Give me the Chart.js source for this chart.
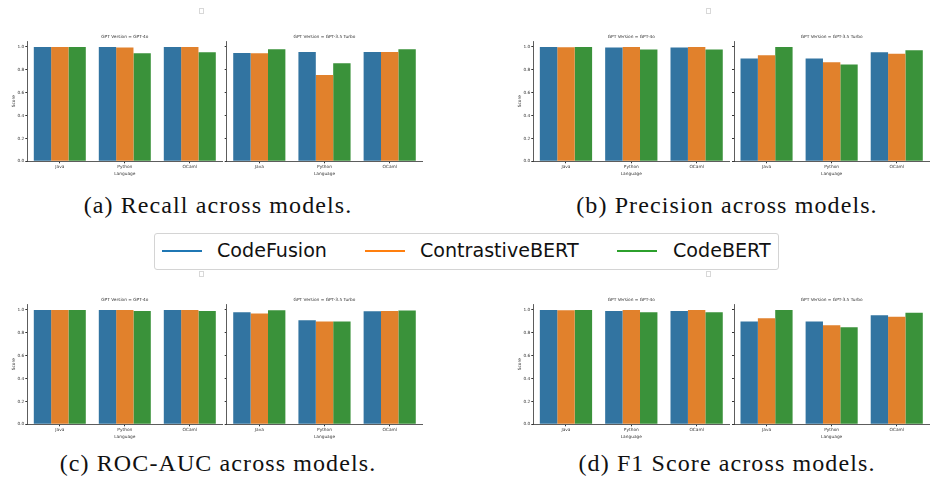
<!DOCTYPE html>
<html>
<head>
<meta charset="utf-8">
<script src="https://cdn.jsdelivr.net/npm/chart.js@4.4.1/dist/chart.umd.min.js"></script>
<style>
  body { margin: 0; background: #fff; width: 935px; height: 487px; position: relative; overflow: hidden; }
  canvas { position: absolute; }
  .legend-box { position: absolute; left: 154px; top: 233px; width: 623px; height: 35px; border: 1px solid #d4d4d4; border-radius: 3px; }
  .legend-line { position: absolute; height: 2px; top: 250px; }
  .legend-text { position: absolute; top: 240px; line-height: 22px; font-family: "DejaVu Sans", sans-serif; font-size: 19.1px; color: #111; white-space: nowrap; }
  .caption { position: absolute; width: 420px; text-align: center; font-family: "Liberation Serif", serif; font-size: 24px; letter-spacing: 1.1px; line-height: 28px; color: #111; white-space: nowrap; }
  .dot { position: absolute; width: 3px; height: 4px; border: 1px solid #d8d8d8; }
</style>
</head>
<body>

<canvas id="recall-4o" width="223" height="142" style="left:0px;top:34px"></canvas>
<canvas id="recall-35" width="199" height="142" style="left:224px;top:34px"></canvas>
<canvas id="precision-4o" width="224" height="142" style="left:506px;top:34px"></canvas>
<canvas id="precision-35" width="199" height="142" style="left:731px;top:34px"></canvas>
<canvas id="roc-4o" width="223" height="142" style="left:0px;top:297px"></canvas>
<canvas id="roc-35" width="199" height="142" style="left:224px;top:297px"></canvas>
<canvas id="f1-4o" width="224" height="142" style="left:506px;top:297px"></canvas>
<canvas id="f1-35" width="199" height="142" style="left:731px;top:297px"></canvas>

<div class="dot" style="left:199px;top:8px"></div>
<div class="dot" style="left:706px;top:8px"></div>
<div class="dot" style="left:199px;top:271px"></div>
<div class="dot" style="left:706px;top:271px"></div>

<div class="caption" style="left:8px;top:191px">(a) Recall across models.</div>
<div class="caption" style="left:517px;top:191px">(b) Precision across models.</div>

<div class="legend-box"></div>
<div class="legend-line" style="left:162px;width:40px;background:#1f77b4"></div>
<div class="legend-text" style="left:217px">CodeFusion</div>
<div class="legend-line" style="left:365px;width:40px;background:#ff7f0e"></div>
<div class="legend-text" style="left:420px">ContrastiveBERT</div>
<div class="legend-line" style="left:617px;width:40px;background:#2ca02c"></div>
<div class="legend-text" style="left:673px">CodeBERT</div>

<div class="caption" style="left:8px;top:449px">(c) ROC-AUC across models.</div>
<div class="caption" style="left:517px;top:449px">(d) F1 Score across models.</div>

<script>
const languages = ['Java', 'Python', 'OCaml'];
const models = ['CodeFusion', 'ContrastiveBERT', 'CodeBERT'];
const modelColors = ['#3274a1', '#e1812c', '#3a923a'];
const yTicks = [0, 0.2, 0.4, 0.6, 0.8, 1.0];

// rows follow models order, columns follow languages order
const recallGpt4o = [[1.0, 1.0, 1.0], [1.0, 0.995, 1.0], [1.0, 0.945, 0.953]];
const recallGpt35 = [[0.947, 0.956, 0.956], [0.945, 0.755, 0.956], [0.98, 0.857, 0.98]];
const precisionGpt4o = [[1.0, 0.994, 0.994], [0.997, 1.0, 1.0], [1.0, 0.977, 0.977]];
const precisionGpt35 = [[0.898, 0.898, 0.953], [0.927, 0.866, 0.939], [1.0, 0.845, 0.971]];
const rocGpt4o = [[1.0, 1.0, 1.0], [1.0, 1.0, 1.0], [1.0, 0.991, 0.991]];
const rocGpt35 = [[0.98, 0.91, 0.988], [0.968, 0.898, 0.991], [0.997, 0.898, 0.994]];
const f1Gpt4o = [[1.0, 0.991, 0.991], [0.997, 1.0, 1.0], [1.0, 0.98, 0.98]];
const f1Gpt35 = [[0.898, 0.898, 0.953], [0.927, 0.866, 0.939], [1.0, 0.848, 0.974]];

Chart.defaults.font.family = '"DejaVu Sans", sans-serif';
Chart.defaults.color = '#333';

const tinyFont = { size: 4.3 };
const axisColor = '#333';

function drawPanel(id, title, rows, isLeft) {
    const yWidth = isLeft ? 27.3 : (id.startsWith('recall') || id.startsWith('roc') ? 2.7 : 3);
    new Chart(document.getElementById(id), {
        type: 'bar',
        data: {
            labels: languages,
            datasets: models.map((m, i) => ({
                label: m,
                data: rows[i],
                backgroundColor: modelColors[i],
                borderWidth: 0,
                categoryPercentage: 0.8,
                barPercentage: 1.0
            }))
        },
        options: {
            responsive: false,
            animation: false,
            layout: { padding: { left: 0, right: 0.7, top: 0, bottom: 0 } },
            plugins: {
                legend: { display: false },
                tooltip: { enabled: false },
                title: {
                    display: true,
                    text: title,
                    fullSize: false,
                    color: '#333',
                    font: { size: 4.3, weight: 'normal' },
                    padding: { top: 0, bottom: 2 }
                }
            },
            scales: {
                x: {
                    offset: true,
                    grid: { display: true, drawOnChartArea: false, offset: false, tickLength: 2, color: axisColor },
                    border: { display: true, color: axisColor, width: 0.8 },
                    ticks: { font: tinyFont, color: '#333', padding: 1, maxRotation: 0, autoSkip: false },
                    title: { display: true, text: 'Language', font: tinyFont, color: '#333', padding: { top: 0, bottom: 0 } },
                    afterFit: (scale) => { scale.height = 14.7; }
                },
                y: {
                    min: 0,
                    max: 1.05,
                    afterBuildTicks: (scale) => { scale.ticks = yTicks.map(v => ({ value: v })); },
                    grid: { display: true, drawOnChartArea: false, tickLength: 2, color: axisColor },
                    border: { display: true, color: axisColor, width: 0.8 },
                    ticks: { display: isLeft, font: tinyFont, color: '#333', padding: 1, callback: (v) => Number(v).toFixed(1) },
                    title: { display: isLeft, text: 'Score', font: tinyFont, color: '#333', padding: { top: 11.4, bottom: 0 } },
                    afterFit: (scale) => { scale.width = yWidth; }
                }
            }
        }
    });
}

drawPanel('recall-4o', 'GPT Version = GPT-4o', recallGpt4o, true);
drawPanel('recall-35', 'GPT Version = GPT-3.5 Turbo', recallGpt35, false);
drawPanel('precision-4o', 'GPT Version = GPT-4o', precisionGpt4o, true);
drawPanel('precision-35', 'GPT Version = GPT-3.5 Turbo', precisionGpt35, false);
drawPanel('roc-4o', 'GPT Version = GPT-4o', rocGpt4o, true);
drawPanel('roc-35', 'GPT Version = GPT-3.5 Turbo', rocGpt35, false);
drawPanel('f1-4o', 'GPT Version = GPT-4o', f1Gpt4o, true);
drawPanel('f1-35', 'GPT Version = GPT-3.5 Turbo', f1Gpt35, false);
</script>
</body>
</html>
